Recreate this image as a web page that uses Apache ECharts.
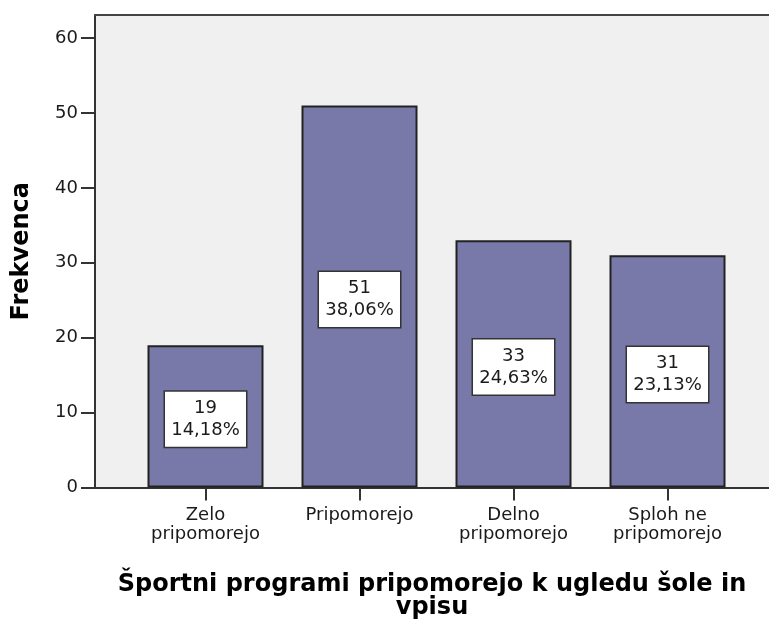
<!DOCTYPE html>
<html>
<head>
<meta charset="utf-8">
<script src="https://cdn.jsdelivr.net/npm/echarts@6/dist/echarts.min.js"></script>
<style>
  html, body { margin: 0; padding: 0; background: #fff; }
  #chart-container { width: 769px; height: 625px; }
</style>
</head>
<body>
<div id="chart-container"></div>
<script>
// data
let categories = ['Zelo\npripomorejo', 'Pripomorejo', 'Delno\npripomorejo', 'Sploh ne\npripomorejo'];
let counts = [19, 51, 33, 31];
let percents = ['14,18%', '38,06%', '24,63%', '23,13%'];
let yTicks = [0, 10, 20, 30, 40, 50, 60];
let xPositions = [1, 2, 3, 4];

let fontName = 'DejaVu Sans';
let myChart;

function buildData() {
    let out = [];
    for (let i = 0; i < counts.length; i++) {
        out.push([xPositions[i], counts[i]]);
    }
    return out;
}

function pllotingGraph() {
    myChart = echarts.init(document.getElementById('chart-container'));
    var option = {
        animation: false,
        backgroundColor: '#ffffff',
        grid: {
            left: 95, right: 0, top: 15, bottom: 137,
            show: true, backgroundColor: '#f0f0f0', borderWidth: 0
        },
        xAxis: [{
            type: 'value',
            min: 0.2825,
            max: 4.659,
            position: 'bottom',
            name: 'Športni programi pripomorejo k ugledu šole in\nvpisu',
            nameLocation: 'middle',
            nameGap: 86,
            nameTextStyle: {
                fontFamily: fontName, fontSize: 24, fontWeight: 'bold',
                color: '#000', lineHeight: 23
            },
            axisLine: { show: true, lineStyle: { color: '#333', width: 2 } },
            axisTick: { show: true, length: 13, customValues: xPositions, lineStyle: { color: '#333', width: 2 } },
            axisLabel: {
                customValues: xPositions,
                formatter: function (v) { return categories[Math.round(v) - 1] || ''; },
                margin: 18,
                fontFamily: fontName, fontSize: 18, lineHeight: 19, color: '#1a1a1a'
            },
            splitLine: { show: false }
        }, {
            type: 'value',
            min: 0.2825,
            max: 4.659,
            position: 'top',
            axisLine: { show: true, onZero: false, lineStyle: { color: '#444', width: 2 } },
            axisTick: { show: false },
            axisLabel: { show: false },
            splitLine: { show: false }
        }],
        yAxis: {
            type: 'value',
            min: 0,
            max: 63.07,
            name: 'Frekvenca',
            nameLocation: 'middle',
            nameGap: 61,
            nameTextStyle: {
                fontFamily: fontName, fontSize: 24, fontWeight: 'bold', color: '#000'
            },
            axisLine: { show: true, lineStyle: { color: '#333', width: 2 } },
            axisTick: { show: true, length: 14, customValues: yTicks, lineStyle: { color: '#333', width: 2 } },
            axisLabel: {
                customValues: yTicks,
                margin: 17,
                fontFamily: fontName, fontSize: 18, color: '#1a1a1a'
            },
            splitLine: { show: false }
        },
        series: [{
            type: 'bar',
            xAxisIndex: 0,
            barWidth: 116,
            data: buildData(),
            itemStyle: { color: '#7979a9', borderColor: '#222', borderWidth: 2 },
            label: {
                show: true,
                position: 'inside',
                offset: [0, 3],
                formatter: function (p) {
                    return p.value[1] + '\n' + percents[p.dataIndex];
                },
                fontFamily: fontName, fontSize: 18, lineHeight: 22, color: '#1a1a1a',
                backgroundColor: '#ffffff',
                borderColor: '#333', borderWidth: 1.5,
                width: 69, align: 'center',
                padding: [6, 6, 5, 6]
            }
        }]
    };
    myChart.setOption(option);
}

pllotingGraph();
</script>
</body>
</html>
